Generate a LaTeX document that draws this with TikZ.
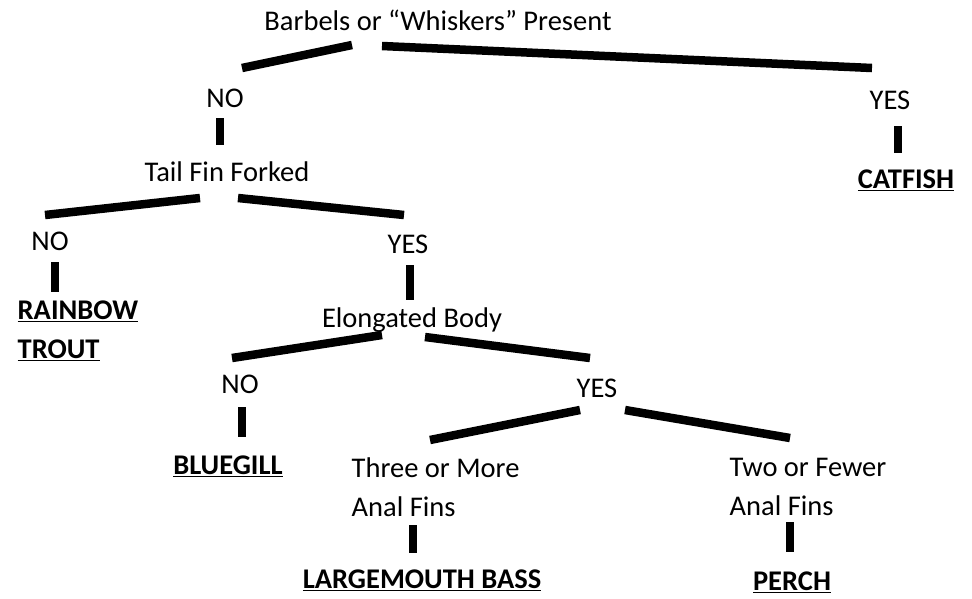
\documentclass[tikz,border=0pt]{standalone}
\usepackage{fontspec}
\setmainfont{Carlito}
\newcommand{\fish}[1]{\underline{\textbf{#1}}}
\begin{document}
\begin{tikzpicture}[x=1pt,y=-1pt,every node/.style={inner sep=1.5pt,font=\fontsize{28.5}{38.5}\selectfont},
    bar/.style={line width=8.5pt}]
        \useasboundingbox (0,0) rectangle (972,598);
        % questions and answers
        \node (root)     at (438,20)  {Barbels or ``Whiskers'' Present};
        \node (noA)      at (225,98)  {NO};
        \node (yesA)     at (890,100) {YES};
        \node (tail)     at (227,172) {Tail Fin Forked};
        \node (catfish)  at (906,180) {\fish{CATFISH}};
        \node (noB)      at (50,241)  {NO};
        \node (yesB)     at (408,244) {YES};
        \node[anchor=west,align=left] (trout) at (16,331) {\fish{RAINBOW}\\\fish{TROUT}};
        \node (body)     at (412,320) {Elongated Body};
        \node (noC)      at (240,384) {NO};
        \node (yesC)     at (597,388) {YES};
        \node (bluegill) at (228,466) {\fish{BLUEGILL}};
        \node[anchor=west,align=left] (three) at (350,487) {Three or More\\Anal Fins};
        \node[anchor=west,align=left] (two)   at (728,487) {Two or Fewer\\Anal Fins};
        \node (bass)     at (422,580) {\fish{LARGEMOUTH BASS}};
        \node (perch)    at (792,582) {\fish{PERCH}};
        % branches
        \draw[bar] ([shift={(-86,25)}]root.center) -- ([shift={(17,-30)}]noA.center);
        \draw[bar] ([shift={(-56,26)}]root.center) -- ([shift={(-18,-32)}]yesA.center);
        \draw[bar] ([shift={(-5,20)}]noA.center) -- ([shift={(-7,-27)}]tail.center);
        \draw[bar] ([shift={(8,26)}]yesA.center) -- ([shift={(-8,-27)}]catfish.center);
        \draw[bar] ([shift={(-27,26)}]tail.center) -- ([shift={(-5,-26)}]noB.center);
        \draw[bar] ([shift={(11,26)}]tail.center) -- ([shift={(-4,-29)}]yesB.center);
        \draw[bar] ([shift={(5,21)}]noB.center) -- ([shift={(39,-39)}]trout.west);
        \draw[bar] ([shift={(2,21)}]yesB.center) -- ([shift={(-2,-20)}]body.center);
        \draw[bar] ([shift={(-30,15)}]body.center) -- ([shift={(-8,-26)}]noC.center);
        \draw[bar] ([shift={(13,17)}]body.center) -- ([shift={(-7,-30)}]yesC.center);
        \draw[bar] ([shift={(2,23)}]noC.center) -- ([shift={(14,-29)}]bluegill.center);
        \draw[bar] ([shift={(-17,22)}]yesC.center) -- ([shift={(80,-47)}]three.west);
        \draw[bar] ([shift={(28,22)}]yesC.center) -- ([shift={(62,-49)}]two.west);
        \draw[bar] ([shift={(63,38)}]three.west) -- ([shift={(-9,-27)}]bass.center);
        \draw[bar] ([shift={(62,35)}]two.west) -- ([shift={(-2,-30)}]perch.center);
    \end{tikzpicture}
\end{document}
